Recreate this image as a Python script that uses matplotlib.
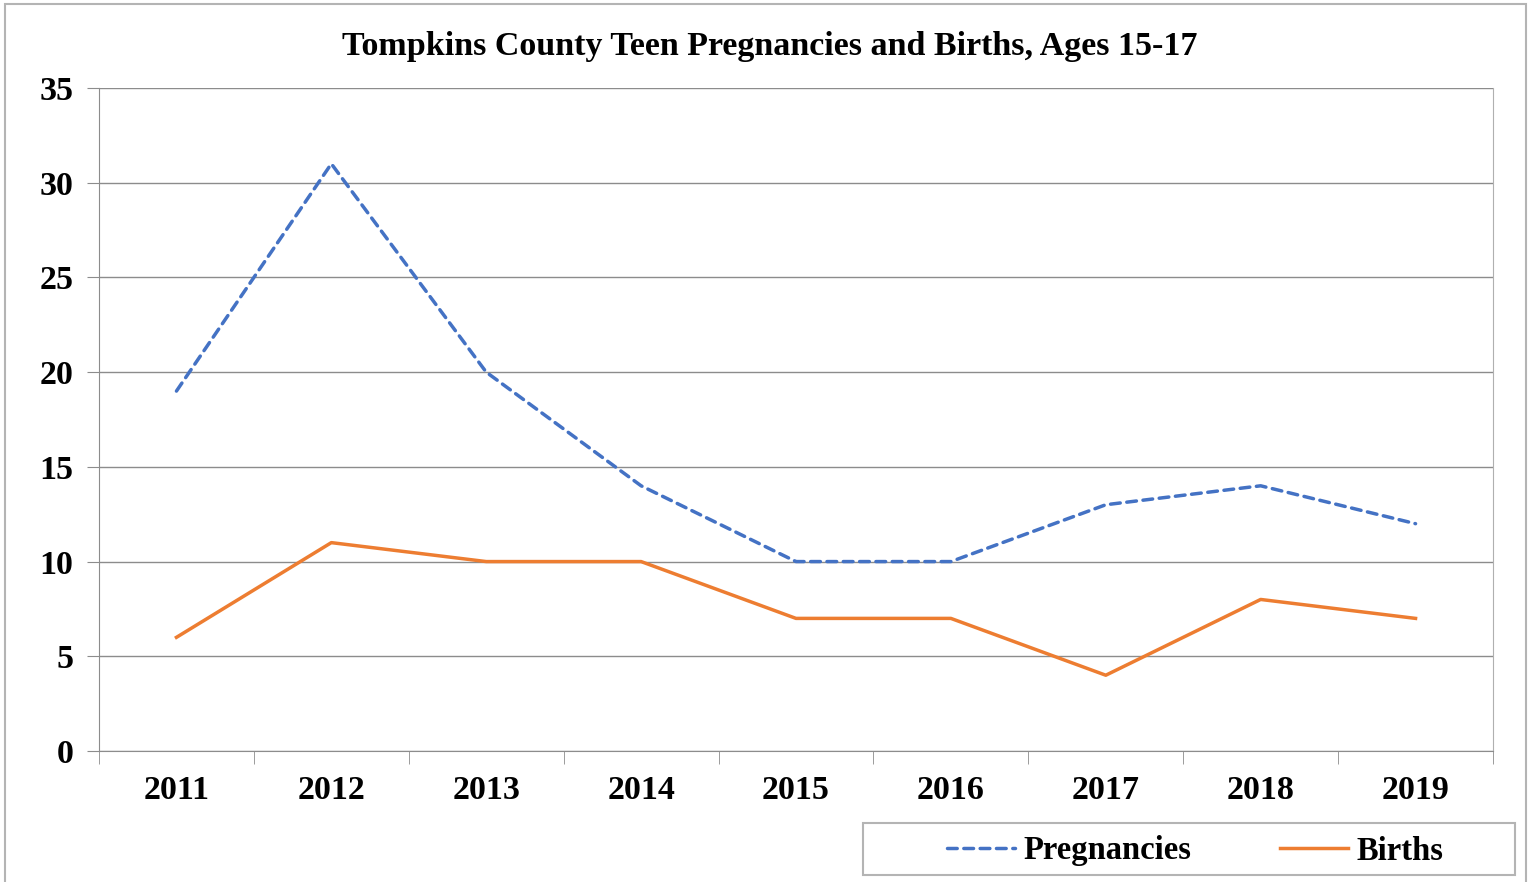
import matplotlib.pyplot as plt
from matplotlib.patches import Rectangle

# data
years = ["2011", "2012", "2013", "2014", "2015", "2016", "2017", "2018", "2019"]
pregnancies = [19, 31, 20, 14, 10, 10, 13, 14, 12]
births = [6, 11, 10, 10, 7, 7, 4, 8, 7]

plt.rcParams['font.family'] = ['Liberation Serif', 'DejaVu Serif']
plt.rcParams['font.weight'] = 'bold'

W, H = 1530, 882
fig = plt.figure(figsize=(W / 100, H / 100), dpi=100)
ax = fig.add_axes([99 / W, 1 - 751 / H, (1493 - 99) / W, (751 - 88) / H])

x = list(range(len(years)))
ax.plot(x, pregnancies, color='#4472C4', lw=2.5, linestyle=(0, (2.8, 1.9)),
        dash_capstyle='round', dash_joinstyle='round', label='Pregnancies')
ax.plot(x, births, color='#ED7D31', lw=2.5, solid_joinstyle='round', label='Births')

ax.set_xlim(-0.5, len(years) - 0.5)
ax.set_ylim(0, 35)
ax.set_yticks(range(0, 36, 5))
ax.grid(axis='y', color='#8c8c8c', lw=1)
ax.set_axisbelow(True)

# category labels at centres, tick marks on the boundaries
ax.set_xticks(x)
ax.set_xticklabels(years, fontsize=24.5, fontweight='bold')
ax.tick_params(axis='x', length=0, pad=17)
ax.set_xticks([i - 0.5 for i in range(len(years) + 1)], minor=True)
ax.tick_params(axis='x', which='minor', length=9, color='#8c8c8c', direction='out')
ax.tick_params(axis='y', length=9, color='#8c8c8c', labelsize=24.5, pad=9.5)
for lab in ax.get_yticklabels():
    lab.set_fontweight('bold')

for s in ['left', 'bottom', 'right']:
    ax.spines[s].set_color('#8c8c8c')
ax.spines['top'].set_visible(False)
ax.spines['right'].set_color('#b0b0b0')

fig.text(770 / W, 1 - 47 / H, "Tompkins County Teen Pregnancies and Births, Ages 15-17",
         ha='center', va='center', fontsize=24.5, fontweight='bold')

# outer chart border
fig.add_artist(Rectangle((5 / W, -0.02), 1521 / W, 1 - 4 / H + 0.02, transform=fig.transFigure,
                         fill=False, edgecolor='#b4b4b4', lw=1.5))

# legend box
fig.add_artist(Rectangle((863 / W, 1 - 875 / H), 652 / W, 52 / H, transform=fig.transFigure,
                         fill=False, edgecolor='#b4b4b4', lw=1.5))
leg = fig.legend(loc='center', bbox_to_anchor=(1195 / W, 1 - 851 / H),
                 ncol=2, frameon=False, fontsize=23.5, handlelength=2.1,
                 handletextpad=0.25, columnspacing=2.7, borderaxespad=0)

fig.savefig('out.png', dpi=100)
